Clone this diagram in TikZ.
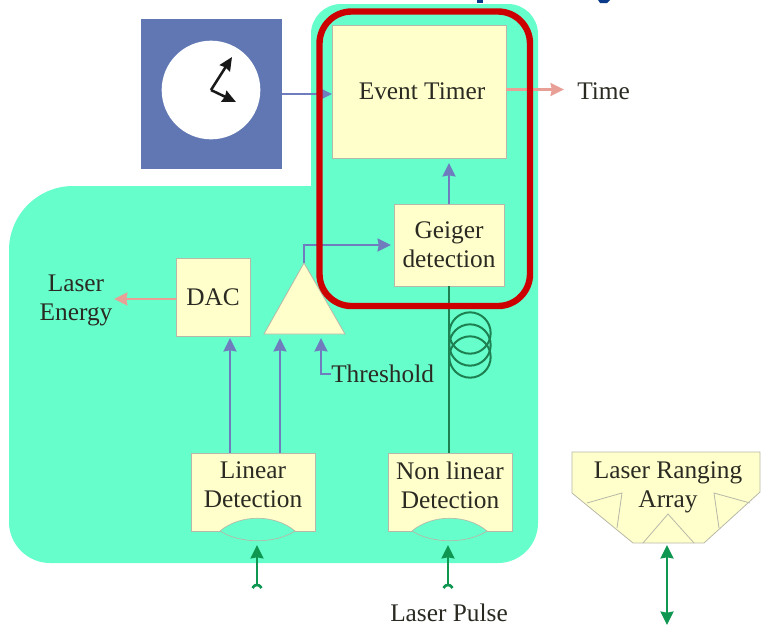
\documentclass[tikz,border=0pt]{standalone}
\usepackage{fontspec}
\setmainfont{Liberation Serif}
\usetikzlibrary{arrows.meta,calc}
\definecolor{teal1}{HTML}{66FFCC}
\definecolor{cream}{HTML}{FFFFCC}
\definecolor{boxedge}{HTML}{B8B8A8}
\definecolor{clockblue}{HTML}{6077B3}
\definecolor{flowblue}{HTML}{6F7CBE}
\definecolor{salmon}{HTML}{E8A096}
\definecolor{ringred}{HTML}{CC0000}
\definecolor{fibre}{HTML}{1E7F50}
\definecolor{beam}{HTML}{0F9650}
\definecolor{navy}{HTML}{0B3A8A}
\definecolor{ink}{HTML}{2A2A22}
\tikzset{
  lbl/.style={font=\fontsize{19}{21.75}\selectfont,text=ink,align=center,inner sep=0pt},
  blockbox/.style={draw=boxedge,fill=cream,line width=0.6pt,inner sep=0pt,outer sep=0pt,lbl},
  flow/.style={draw=flowblue,line width=2.1pt,-{Stealth[length=10pt,width=9.5pt,inset=0.8pt]}},
  outflow/.style={draw=salmon,line width=2.1pt,-{Stealth[length=10pt,width=9.5pt,inset=0.8pt]}},
  beamarrow/.style={draw=beam,line width=2.2pt,-{Stealth[length=10pt,width=9.5pt,inset=0.8pt]}},
  forkline/.style={draw=beam,line width=2pt},
  handline/.style={draw=black!90,line width=1.9pt,-{Stealth[length=10pt,width=9pt,inset=0.8pt]}},
  fibreline/.style={draw=fibre,line width=1.5pt},
  thin edge/.style={draw=boxedge,line width=0.6pt}
}
\begin{document}
\begin{tikzpicture}[x=0.75pt,y=-0.75pt]
\useasboundingbox (0,0) rectangle (761,626);
% cut-off title fragments
\fill[navy] (477,0) rectangle (483,3);
\fill[navy] (598,0) -- (610,0) -- (607,3) -- (600,3) -- cycle;
% teal area
\fill[teal1] (311,34) .. controls (311,17.5) and (324.5,4) .. (341,4) -- (508,4)
  .. controls (524.5,4) and (538,17.5) .. (538,34) -- (538,523)
  .. controls (538,545) and (520,563) .. (498,563) -- (50,563)
  .. controls (27.5,563) and (9,544.5) .. (9,522) -- (9,250)
  .. controls (9,215) and (37.7,186) .. (73,186) -- (311,186) -- cycle;
% clock
\node[fill=clockblue,draw=none,inner sep=0pt,outer sep=0pt,minimum width=106pt,minimum height=112.5pt] (clock) at (211.5,94) {};
\node[circle,fill=white,draw=none,inner sep=0pt,minimum size=74pt] (face) at (211,90) {};
\coordinate (pivot) at (211,90);
\coordinate (hand1) at (232,57);
\coordinate (hand2) at (236,102);
\draw[handline] (pivot) -- (hand1);
\draw[handline] (pivot) -- (hand2);
% blocks
\node[blockbox,minimum width=130.5pt,minimum height=99.75pt] (timer) at (419,91.5) {\hspace*{4.5pt}Event Timer};
\node[blockbox,minimum width=82.5pt,minimum height=61.5pt] (geiger) at (449,245) {Geiger\\detection};
\node[blockbox,minimum width=55.5pt,minimum height=58.5pt] (dac) at (213,297) {\raisebox{-2.25pt}{DAC}};
\node[blockbox,minimum width=93pt,minimum height=58.5pt] (lin) at (253,492) {};
\node[blockbox,minimum width=93pt,minimum height=58.5pt] (nonlin) at (450,492) {};
\node[lbl] (lintext) at (253,485) {Linear\\Detection};
\node[lbl] (nonlintext) at (450,485) {Non linear\\Detection};
% lenses
\fill[teal1,draw=boxedge,line width=0.5pt] (220,531) .. controls (240,514) and (275,514) .. (295,531) .. controls (275,544) and (240,544) .. (220,531);
\fill[teal1,draw=boxedge,line width=0.5pt] (412,531) .. controls (432,514) and (467,514) .. (487,531) .. controls (467,544) and (432,544) .. (412,531);
% amplifier
\path[fill=cream,draw=boxedge,line width=0.6pt] (304,263) coordinate (apex) -- (345,334) coordinate (ampr) -- (264,334) coordinate (ampl) -- cycle;
% connectors
\coordinate (clockout) at (282,94);
\coordinate (timerin) at (332,94);
\draw[flow] (clockout) -- (timerin);
\coordinate (timeout) at (506,89.5);
\coordinate (timeend) at (564,89.5);
\draw[outflow] (timeout) -- (timeend);
\node[lbl,anchor=west] (timelabel) at (577,91) {Time};
\coordinate (gtop) at (449,204);
\coordinate (ttip) at (449,163);
\draw[flow] (gtop) -- (ttip);
\coordinate (gin) at (391,245);
\draw[flow] (apex) -- (304,245) -- (gin);
\coordinate (dacout) at (176,299);
\coordinate (dacend) at (114,299);
\draw[outflow] (dacout) -- (dacend);
\node[lbl] (energy) at (76,300) {Laser\\Energy};
\coordinate (lin1) at (230,453);
\coordinate (dacin) at (230,338);
\draw[flow] (lin1) -- (dacin);
\coordinate (lin2) at (280,453);
\coordinate (ampin1) at (280,338);
\draw[flow] (lin2) -- (ampin1);
\node[lbl,anchor=west] (thr) at (331,374) {Threshold};
\coordinate (thrcorner) at (321,374);
\coordinate (ampin2) at (321,338);
\draw[flow] (thr.west) -- (thrcorner) -- (ampin2);
% fibre
\coordinate (gbot) at (449,286);
\coordinate (nltop) at (449,453);
\draw[fibreline] (gbot) -- (nltop);
\node[circle,draw=fibre,line width=1.5pt,inner sep=0pt,minimum size=31pt] (coil1) at (470,333) {};
\node[circle,draw=fibre,line width=1.5pt,inner sep=0pt,minimum size=31pt] (coil2) at (470,345) {};
\node[circle,draw=fibre,line width=1.5pt,inner sep=0pt,minimum size=31pt] (coil3) at (470,357) {};
% laser inputs
\coordinate (b1) at (257,585);
\coordinate (b1t) at (257,545);
\draw[beamarrow] (b1) -- (b1t);
\draw[forkline] (252.5,588) .. controls (254.5,585) and (256,585) .. (b1) .. controls (258,585) and (259.5,585) .. (261.5,588);
\coordinate (b2) at (448,585);
\coordinate (b2t) at (448,545);
\draw[beamarrow] (b2) -- (b2t);
\draw[forkline] (443.5,588) .. controls (445.5,585) and (447,585) .. (b2) .. controls (449,585) and (450.5,585) .. (452.5,588);
\node[lbl] (pulse) at (449,613) {Laser Pulse};
% laser ranging array
\path[fill=cream,draw=boxedge,line width=0.6pt] (572,452) -- (760,452) -- (760,492) -- (704,543) -- (633,543) -- (572,493) -- cycle;
\draw[thin edge] (587,503) -- (622,493) -- (617,528);
\draw[thin edge] (750,503) -- (714,493) -- (719,528);
\draw[thin edge] (643,543) -- (668,514) -- (694,543);
\node[lbl] (lra) at (668,487) {Laser Ranging\\Array};
\coordinate (lra1) at (667,545);
\coordinate (lra2) at (667,625);
\draw[draw=beam,line width=2.2pt,{Stealth[length=10pt,width=9.5pt,inset=0.8pt]}-{Stealth[length=10pt,width=9.5pt,inset=0.8pt]}] (lra1) -- (lra2);
% red ring
\draw[ringred,line width=4.8pt,rounded corners=24pt] (319.5,11.5) rectangle (530,306);
\end{tikzpicture}
\end{document}
